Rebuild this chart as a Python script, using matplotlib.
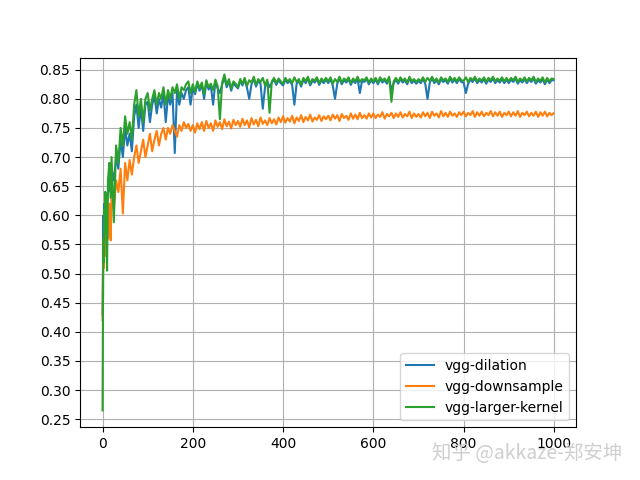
import matplotlib
matplotlib.use("Agg")
import matplotlib.pyplot as plt

epochs = ([0, 1, 2, 3, 4, 5, 6, 8, 10, 12, 15, 18]
          + list(range(20, 1000, 5)) + [999])

vgg_dilation = [
    0.43, 0.52, 0.60, 0.55, 0.62, 0.58, 0.64, 0.59, 0.62, 0.64, 0.67, 0.64,
    0.68, 0.66, 0.70, 0.68, 0.73, 0.70, 0.75, 0.72, 0.74, 0.71, 0.77, 0.79, 0.75, 0.785, 0.745, 0.79,
    0.795, 0.76, 0.79, 0.805, 0.775, 0.80, 0.785, 0.81, 0.76, 0.805, 0.79, 0.81,
    0.707, 0.815, 0.79, 0.81, 0.80, 0.815, 0.82, 0.79,
    0.82, 0.808, 0.826, 0.814, 0.824, 0.80, 0.828, 0.816, 0.822, 0.79, 0.83, 0.818, 0.81, 0.825, 0.836, 0.82, 0.83, 0.814, 0.827, 0.822,
    0.818, 0.831, 0.823, 0.833, 0.819, 0.80, 0.825, 0.835, 0.821, 0.831, 0.826, 0.783, 0.82, 0.83, 0.82, 0.828, 0.833, 0.824, 0.832, 0.827,
    0.823, 0.833, 0.827, 0.831, 0.824, 0.79, 0.826, 0.831, 0.821, 0.833, 0.827, 0.835, 0.823, 0.831, 0.828, 0.834, 0.824, 0.832, 0.827, 0.833,
    0.827, 0.834, 0.823, 0.80, 0.826, 0.835, 0.825, 0.832, 0.828, 0.834, 0.824, 0.832, 0.827, 0.835, 0.81, 0.831, 0.829, 0.834, 0.825, 0.832,
    0.827, 0.833, 0.825, 0.834, 0.828, 0.832, 0.826, 0.835, 0.815, 0.827, 0.833, 0.826, 0.834, 0.828, 0.832, 0.825, 0.835, 0.827, 0.831, 0.826,
    0.831, 0.827, 0.834, 0.826, 0.80, 0.828, 0.835, 0.827, 0.832, 0.825, 0.834, 0.829, 0.832, 0.826, 0.835, 0.828, 0.833, 0.827, 0.834, 0.829,
    0.828, 0.81, 0.826, 0.833, 0.829, 0.835, 0.827, 0.832, 0.828, 0.834, 0.826, 0.833, 0.829, 0.835, 0.827, 0.832, 0.828, 0.834, 0.827, 0.833,
    0.827, 0.833, 0.829, 0.835, 0.826, 0.832, 0.828, 0.834, 0.827, 0.833, 0.829, 0.835, 0.826, 0.832, 0.828, 0.834, 0.825, 0.833, 0.827, 0.832,
    0.832]

vgg_downsample = [
    0.42, 0.50, 0.55, 0.51, 0.56, 0.53, 0.58, 0.55, 0.60, 0.56, 0.62, 0.557,
    0.64, 0.61, 0.66, 0.64, 0.68, 0.603, 0.69, 0.66, 0.695, 0.67, 0.70, 0.72, 0.69, 0.71, 0.73, 0.70,
    0.72, 0.74, 0.71, 0.73, 0.745, 0.72, 0.74, 0.75, 0.73, 0.75, 0.74, 0.755,
    0.745, 0.735, 0.755, 0.745, 0.76, 0.75, 0.757, 0.745,
    0.755, 0.742, 0.758, 0.748, 0.76, 0.745, 0.762, 0.75, 0.758, 0.745, 0.763, 0.752, 0.76, 0.748, 0.765, 0.753, 0.761, 0.749, 0.764, 0.755,
    0.762, 0.752, 0.766, 0.755, 0.763, 0.751, 0.767, 0.756, 0.764, 0.753, 0.768, 0.757, 0.763, 0.755, 0.767, 0.758, 0.765, 0.756, 0.768, 0.76,
    0.77, 0.759, 0.767, 0.761, 0.771, 0.758, 0.768, 0.762, 0.772, 0.76, 0.769, 0.763, 0.773, 0.761, 0.768, 0.764, 0.772, 0.762, 0.77, 0.765,
    0.771, 0.763, 0.773, 0.766, 0.772, 0.762, 0.774, 0.767, 0.771, 0.764, 0.775, 0.766, 0.773, 0.765, 0.776, 0.767, 0.772, 0.766, 0.775, 0.768,
    0.775, 0.767, 0.773, 0.769, 0.777, 0.766, 0.774, 0.77, 0.776, 0.767, 0.775, 0.769, 0.777, 0.768, 0.774, 0.77, 0.778, 0.767, 0.775, 0.769,
    0.774, 0.768, 0.777, 0.77, 0.776, 0.767, 0.778, 0.771, 0.775, 0.768, 0.779, 0.77, 0.776, 0.769, 0.778, 0.771, 0.775, 0.769, 0.777, 0.772,
    0.778, 0.77, 0.776, 0.772, 0.779, 0.769, 0.777, 0.771, 0.778, 0.77, 0.776, 0.772, 0.779, 0.77, 0.777, 0.771, 0.778, 0.769, 0.776, 0.772,
    0.778, 0.77, 0.777, 0.771, 0.779, 0.769, 0.776, 0.772, 0.778, 0.77, 0.776, 0.771, 0.778, 0.769, 0.777, 0.771, 0.778, 0.77, 0.776, 0.772,
    0.775]

vgg_larger_kernel = [
    0.265, 0.45, 0.56, 0.52, 0.61, 0.57, 0.64, 0.60, 0.505, 0.66, 0.69, 0.63,
    0.70, 0.588, 0.72, 0.69, 0.75, 0.72, 0.77, 0.74, 0.76, 0.73, 0.79, 0.815, 0.77, 0.80, 0.76, 0.80,
    0.81, 0.78, 0.80, 0.815, 0.79, 0.81, 0.80, 0.82, 0.79, 0.815, 0.80, 0.82,
    0.81, 0.825, 0.80, 0.82, 0.815, 0.825, 0.83, 0.81,
    0.825, 0.812, 0.83, 0.818, 0.828, 0.808, 0.832, 0.82, 0.826, 0.815, 0.833, 0.822, 0.765, 0.828, 0.842, 0.824, 0.834, 0.818, 0.83, 0.826,
    0.82, 0.834, 0.826, 0.836, 0.822, 0.832, 0.828, 0.838, 0.824, 0.834, 0.829, 0.836, 0.823, 0.833, 0.776, 0.83, 0.836, 0.827, 0.835, 0.83,
    0.826, 0.836, 0.83, 0.834, 0.827, 0.837, 0.829, 0.834, 0.824, 0.836, 0.83, 0.838, 0.826, 0.834, 0.831, 0.837, 0.827, 0.835, 0.83, 0.836,
    0.83, 0.837, 0.826, 0.834, 0.829, 0.838, 0.828, 0.835, 0.831, 0.837, 0.827, 0.835, 0.83, 0.838, 0.829, 0.834, 0.832, 0.837, 0.828, 0.835,
    0.83, 0.836, 0.828, 0.837, 0.831, 0.835, 0.829, 0.838, 0.795, 0.83, 0.836, 0.829, 0.837, 0.831, 0.835, 0.828, 0.838, 0.83, 0.834, 0.829,
    0.834, 0.83, 0.837, 0.829, 0.836, 0.831, 0.838, 0.83, 0.835, 0.828, 0.837, 0.832, 0.835, 0.829, 0.838, 0.831, 0.836, 0.83, 0.837, 0.832,
    0.831, 0.837, 0.829, 0.836, 0.832, 0.838, 0.83, 0.835, 0.831, 0.837, 0.829, 0.836, 0.832, 0.838, 0.83, 0.835, 0.831, 0.837, 0.83, 0.836,
    0.83, 0.836, 0.832, 0.838, 0.829, 0.835, 0.831, 0.837, 0.83, 0.836, 0.832, 0.838, 0.829, 0.835, 0.831, 0.837, 0.828, 0.836, 0.83, 0.835,
    0.834]

labels = ["vgg-dilation", "vgg-downsample", "vgg-larger-kernel"]

fig, ax = plt.subplots(figsize=(6.4, 4.8), dpi=100)
ax.plot(epochs, vgg_dilation, label=labels[0])
ax.plot(epochs, vgg_downsample, label=labels[1])
ax.plot(epochs, vgg_larger_kernel, label=labels[2])
ax.set_yticks([0.25, 0.30, 0.35, 0.40, 0.45, 0.50, 0.55, 0.60, 0.65, 0.70, 0.75, 0.80, 0.85])
ax.grid(True)
ax.legend(loc="lower right")

fig.text(0.972, 0.055, "知乎 @akkaze-郑安坤", ha="right", va="center",
         fontsize=14, color="#cfcfcf",
         family=["Noto Sans CJK SC", "DejaVu Sans"])

fig.savefig("out.png", dpi=100)
